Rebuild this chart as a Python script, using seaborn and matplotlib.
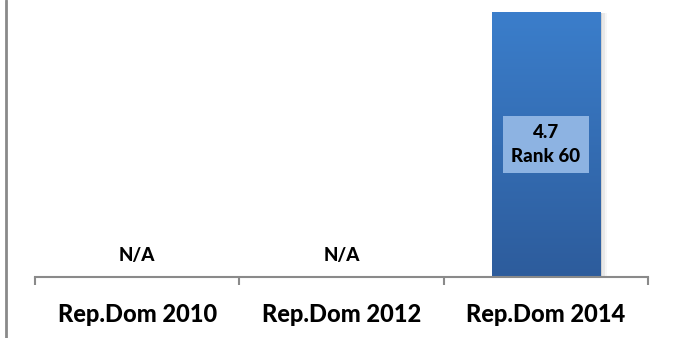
import numpy as np
import pandas as pd
import matplotlib
matplotlib.use("Agg")
import matplotlib.pyplot as plt
from matplotlib.lines import Line2D
from matplotlib.colors import LinearSegmentedColormap
from matplotlib.patches import Rectangle
import seaborn as sns

sns.set_theme(style="white")
plt.rcParams["font.family"] = ["Lato", "DejaVu Sans"]

# ---------- data ----------
categories = ["Rep.Dom 2010", "Rep.Dom 2012", "Rep.Dom 2014"]
values = [np.nan, np.nan, 4.7]
ranks = [None, None, 60]

df = pd.DataFrame({"country": categories, "score": values})

AXIS_GREY = "#8a8a8a"
grad = LinearSegmentedColormap.from_list("bar", ["#2d5c9c", "#3b7ecb"])

fig = plt.figure(figsize=(6.73, 3.38), dpi=100)
ax = fig.add_axes([35 / 673, 1 - 277 / 338, 613 / 673, 277 / 338])

sns.barplot(data=df, x="country", y="score", ax=ax, width=0.53,
            color="#3670b8", linewidth=0)

ymax = 4.7 * 277 / 265

# gradient fill, clipped to each bar
for p in ax.patches:
    h = p.get_height()
    if not np.isfinite(h) or h <= 0:
        continue
    x0, w = p.get_x(), p.get_width()
    # soft shadow on the right
    for i, a in enumerate([0.10, 0.06, 0.03]):
        ax.add_patch(Rectangle((x0 + w, 0), 0.012 * (i + 1), h * 0.995,
                               color="black", alpha=a, lw=0, zorder=1))
    img = ax.imshow(np.linspace(0, 1, 256).reshape(-1, 1), cmap=grad,
                    origin="lower", extent=[x0, x0 + w, 0, h],
                    aspect="auto", zorder=2)
    img.set_clip_path(p)
    p.set_facecolor("none")

ax.set_xlim(-0.5, 2.5)
ax.set_ylim(0, ymax)

# value labels
for i, (v, r) in enumerate(zip(values, ranks)):
    if np.isfinite(v):
        ax.text(i, v * 0.5, f"{v}\nRank {r}", ha="center", va="center",
                fontsize=13.5, fontweight="black", color="black", linespacing=1.45,
                zorder=5,
                bbox=dict(boxstyle="square,pad=0.45", facecolor="#8db3e2",
                          edgecolor="none"))
    else:
        ax.text(i, 0.39, "N/A", ha="center", va="center",
                fontsize=13.5, fontweight="black", color="black")

# axes styling
for s in ["top", "right", "left"]:
    ax.spines[s].set_visible(False)
ax.spines["bottom"].set_color(AXIS_GREY)
ax.spines["bottom"].set_linewidth(1.5)
ax.set_yticks([])
ax.set_xlabel("")
ax.set_ylabel("")
ax.set_xticks([-0.5, 0.5, 1.5, 2.5], minor=True)
ax.tick_params(axis="x", which="minor", bottom=True, length=6, width=1.5,
               color=AXIS_GREY, direction="out")
ax.tick_params(axis="x", which="major", bottom=False, pad=13, labelsize=17)
for t in ax.get_xticklabels():
    t.set_fontweight("black")
    t.set_color("black")

# left frame line
fig.add_artist(Line2D([6 / 673, 6 / 673], [0, 1], color=AXIS_GREY, lw=2,
                      transform=fig.transFigure))

fig.savefig("out.png", dpi=100)
